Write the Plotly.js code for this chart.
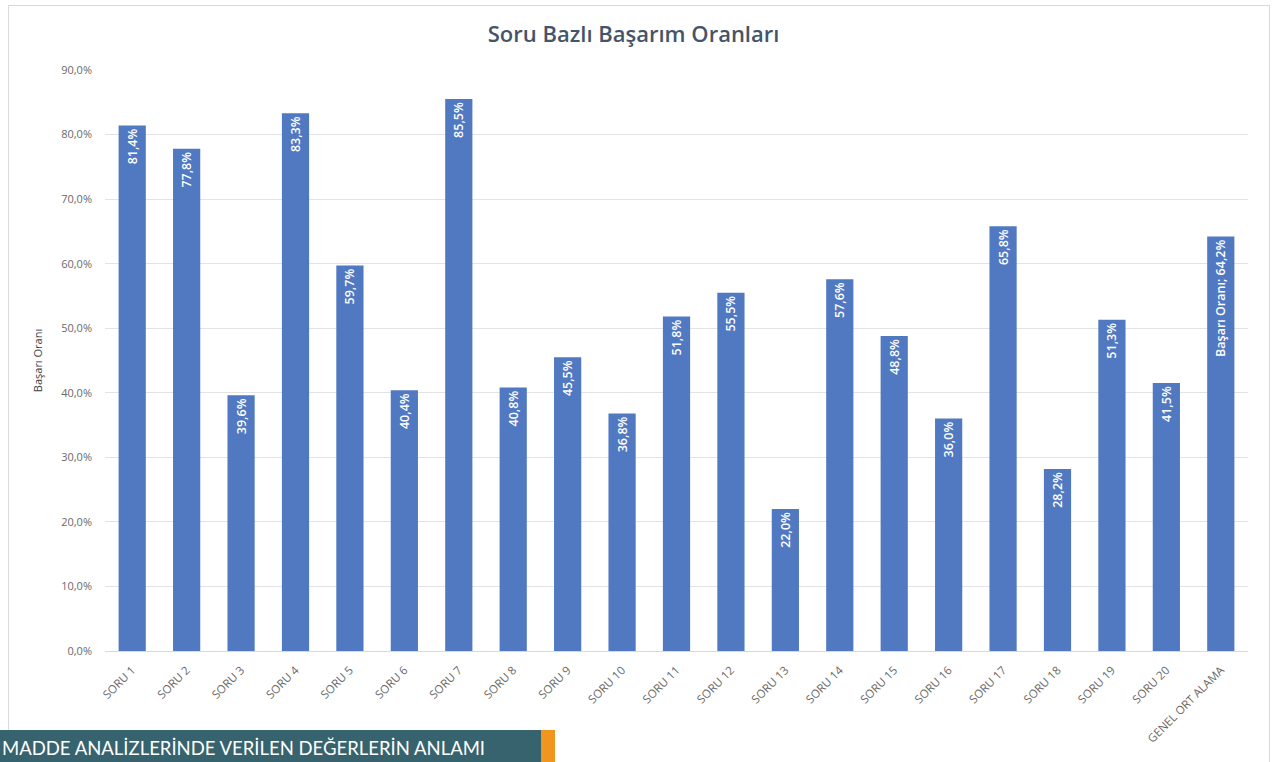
<!DOCTYPE html>
<html><head><meta charset="utf-8">
<script src="https://cdn.plot.ly/plotly-3.0.1.min.js"></script>
<style>
html,body{margin:0;padding:0;background:#fff;width:1280px;height:762px;overflow:hidden;font-family:"Open Sans",sans-serif;}
#frame{position:absolute;left:8px;top:5px;width:1260px;height:800px;border:1px solid #d9d9d9;}
#chart{position:absolute;left:0;top:0;width:1280px;height:762px;}
#banner{position:absolute;left:0;top:730px;width:541px;height:32px;background:#37636f;color:#fff;font-size:18.5px;line-height:26px;padding-top:5px;padding-left:2px;box-sizing:border-box;white-space:nowrap;font-family:Lato,"Open Sans",sans-serif;}
#orange{position:absolute;left:541px;top:730px;width:14px;height:32px;background:#f0961e;}
</style></head>
<body>
<div id="frame"></div>
<div id="chart"></div>
<div id="banner">MADDE ANALİZLERİNDE VERİLEN DEĞERLERİN ANLAMI</div>
<div id="orange"></div>
<script>
const categories = ["SORU 1","SORU 2","SORU 3","SORU 4","SORU 5","SORU 6","SORU 7","SORU 8","SORU 9","SORU 10","SORU 11","SORU 12","SORU 13","SORU 14","SORU 15","SORU 16","SORU 17","SORU 18","SORU 19","SORU 20","GENEL ORT ALAMA"];
const values = [81.4,77.8,39.6,83.3,59.7,40.4,85.5,40.8,45.5,36.8,51.8,55.5,22.0,57.6,48.8,36.0,65.8,28.2,51.3,41.5,64.2];
const seriesName = "Başarı Oranı";
const labels = values.map((v,i)=> (i===values.length-1 ? seriesName+"; " : "") + v.toFixed(1).replace('.',',') + "%");

const trace = {
  type:'bar', x:categories, y:values, name:seriesName,
  marker:{color:'#5079c2'},
  width:0.5,
  text:labels, textposition:'inside', insidetextanchor:'end', textangle:-90,
  textfont:{color:'#ffffff', size:12.5, family:'Open Sans', weight:600},
  constraintext:'none', cliponaxis:false, hoverinfo:'x+y'
};
const layout = {
  width:1280, height:762,
  margin:{l:105, r:32, t:70, b:111},
  paper_bgcolor:'rgba(0,0,0,0)', plot_bgcolor:'rgba(0,0,0,0)',
  separators:',.',
  showlegend:false,
  title:{text:'Soru Bazlı Başarım Oranları', x:0.495, xanchor:'center', y:0.955, yanchor:'middle',
         font:{size:22, color:'#44546a', family:'Open Sans', weight:600}},
  xaxis:{type:'category', tickangle:-45, tickfont:{size:11.5, color:'#6a6a6a', family:'Open Sans'},
         showgrid:false, showline:true, linecolor:'#d9d9d9', ticks:'', automargin:false, ticklabelstandoff:7},
  yaxis:{range:[0,90], dtick:10, tickformat:'.1f', ticksuffix:'%', showgrid:true, gridcolor:'#e3e3e3',
         zeroline:false, tickfont:{size:11, color:'#6a6a6a', family:'Open Sans'}, ticklabelstandoff:12,
         title:{text:'Başarı Oranı', font:{size:11, color:'#404040', family:'Open Sans'}, standoff:16},
         automargin:false, ticks:'', showline:false}
};
Plotly.newPlot('chart',[trace],layout,{displayModeBar:false, staticPlot:true});
</script>
</body></html>
